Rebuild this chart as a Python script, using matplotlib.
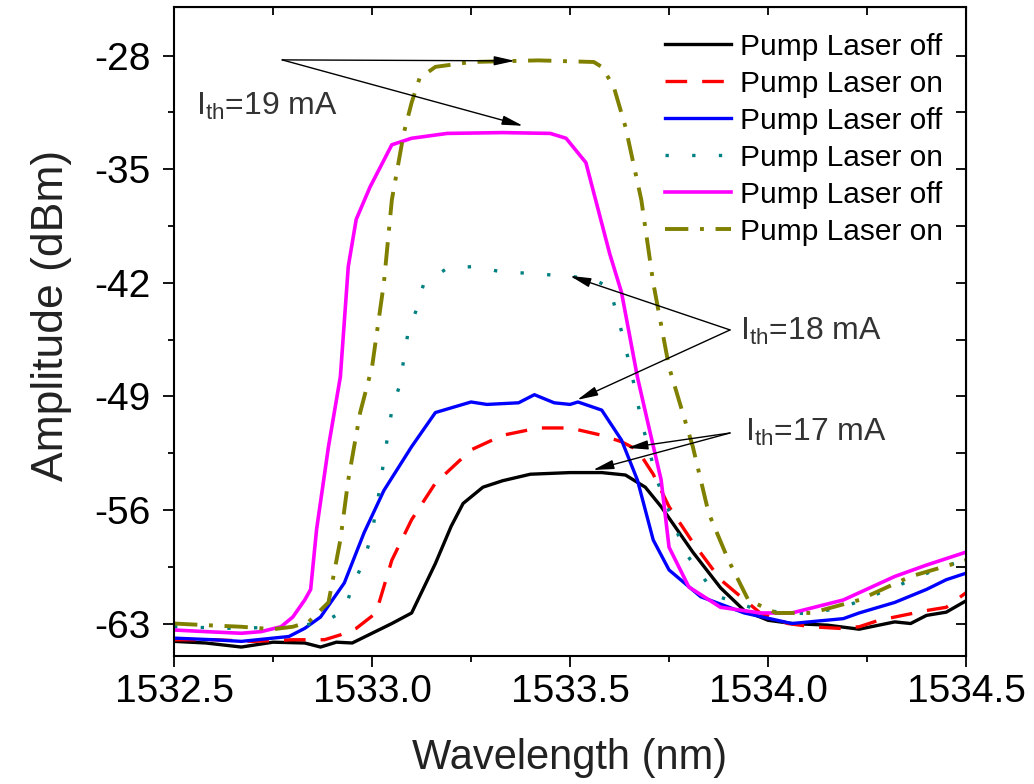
import numpy as np
import matplotlib.pyplot as plt
from matplotlib.ticker import MultipleLocator

plt.rcParams['font.family'] = ['Liberation Sans', 'DejaVu Sans']
plt.rcParams['mathtext.fontset'] = 'custom'
plt.rcParams['mathtext.rm'] = 'Liberation Sans'
plt.rcParams['axes.unicode_minus'] = False

# ------------------ DATA ------------------
# Ith = 17 mA, pump off (black)
x_17_off = [1532.50, 1532.58, 1532.67, 1532.75, 1532.83, 1532.87, 1532.91, 1532.95, 1533.00,
            1533.05, 1533.10, 1533.16, 1533.20, 1533.23, 1533.28, 1533.33, 1533.40, 1533.50,
            1533.58, 1533.64, 1533.69, 1533.73, 1533.81, 1533.88, 1533.94, 1534.00, 1534.06,
            1534.15, 1534.23, 1534.28, 1534.32, 1534.36, 1534.40, 1534.45, 1534.50]
y_17_off = [-64.1, -64.2, -64.45, -64.15, -64.2, -64.45, -64.15, -64.2, -63.6,
            -63.0, -62.35, -59.3, -57.0, -55.6, -54.6, -54.2, -53.8, -53.7,
            -53.7, -53.85, -54.6, -55.8, -58.6, -60.8, -62.2, -62.8, -63.0,
            -63.1, -63.35, -63.1, -62.9, -63.0, -62.5, -62.3, -61.6]

# Ith = 17 mA, pump on (red dashed)
x_17_on = [1532.50, 1532.60, 1532.70, 1532.80, 1532.88, 1532.92, 1532.96, 1533.01, 1533.05,
           1533.10, 1533.16, 1533.25, 1533.33, 1533.42, 1533.50, 1533.58, 1533.63, 1533.67,
           1533.71, 1533.75, 1533.81, 1533.88, 1533.98, 1534.05, 1534.11, 1534.18, 1534.23,
           1534.28, 1534.32, 1534.40, 1534.45, 1534.50]
y_17_on = [-64.0, -64.0, -64.1, -64.0, -64.0, -63.7, -63.3, -62.35, -59.1,
           -56.6, -54.35, -52.3, -51.4, -50.95, -50.95, -51.4, -51.8, -52.3,
           -53.8, -55.8, -58.0, -60.3, -62.35, -63.0, -63.2, -63.3, -63.2,
           -62.8, -62.6, -62.2, -62.0, -61.1]

# Ith = 18 mA, pump off (blue)
x_18_off = [1532.50, 1532.60, 1532.67, 1532.75, 1532.79, 1532.83, 1532.87, 1532.93, 1532.98,
            1533.03, 1533.10, 1533.16, 1533.25, 1533.29, 1533.33, 1533.37, 1533.41, 1533.46,
            1533.50, 1533.52, 1533.58, 1533.63, 1533.67, 1533.71, 1533.75, 1533.83, 1533.94,
            1534.06, 1534.19, 1534.23, 1534.32, 1534.40, 1534.45, 1534.50]
y_18_off = [-63.9, -64.0, -64.1, -63.9, -63.8, -63.3, -62.6, -60.5, -57.4,
            -54.8, -52.1, -50.0, -49.35, -49.5, -49.45, -49.4, -48.9, -49.4,
            -49.5, -49.35, -49.85, -51.7, -54.15, -57.85, -59.7, -61.35, -62.35,
            -63.0, -62.7, -62.35, -61.7, -60.9, -60.3, -59.9]

# Ith = 18 mA, pump on (teal dotted)
x_18_on = [1532.50, 1532.65, 1532.80, 1532.88, 1532.93, 1532.95, 1532.98, 1533.00, 1533.02,
           1533.03, 1533.05, 1533.07, 1533.08, 1533.09, 1533.11, 1533.13, 1533.19, 1533.26,
           1533.32, 1533.38, 1533.44, 1533.50, 1533.56, 1533.60, 1533.63, 1533.655, 1533.68,
           1533.72, 1533.79, 1533.87, 1533.98, 1534.10, 1534.19, 1534.32, 1534.44, 1534.50]
y_18_on = [-63.2, -63.3, -63.2, -62.9, -62.2, -60.75, -59.1, -57.4, -54.6,
           -52.9, -49.85, -48.3, -46.75, -45.2, -43.8, -42.1, -41.1, -41.0,
           -41.3, -41.4, -41.5, -41.6, -41.8, -42.3, -45.0, -47.5, -50.5,
           -54.2, -58.6, -61.3, -62.2, -62.4, -62.0, -60.75, -59.5, -59.1]

# Ith = 19 mA, pump off (magenta)
x_19_off = [1532.50, 1532.58, 1532.67, 1532.72, 1532.77, 1532.80, 1532.83, 1532.845, 1532.86,
            1532.89, 1532.92, 1532.94, 1532.96, 1532.995, 1533.05, 1533.10, 1533.19, 1533.33,
            1533.45, 1533.49, 1533.54, 1533.60, 1533.63, 1533.67, 1533.70, 1533.73, 1533.75,
            1533.80, 1533.88, 1533.98, 1534.06, 1534.19, 1534.32, 1534.40, 1534.50]
y_19_off = [-63.4, -63.5, -63.6, -63.5, -63.2, -62.6, -61.55, -60.9, -57.2,
            -52.1, -47.8, -41.0, -38.1, -36.1, -33.5, -33.1, -32.8, -32.75,
            -32.8, -33.1, -34.6, -40.2, -42.6, -47.8, -51.0, -54.15, -58.3,
            -60.75, -62.0, -62.35, -62.35, -61.55, -60.1, -59.4, -58.6]

# Ith = 19 mA, pump on (olive dash-dot)
x_19_on = [1532.50, 1532.58, 1532.67, 1532.75, 1532.80, 1532.84, 1532.89, 1532.92, 1532.94,
           1532.97, 1533.00, 1533.03, 1533.05, 1533.08, 1533.10, 1533.12, 1533.16, 1533.25,
           1533.42, 1533.56, 1533.58, 1533.61, 1533.64, 1533.68, 1533.71, 1533.75, 1533.81,
           1533.85, 1533.90, 1533.95, 1534.02, 1534.11, 1534.23, 1534.36, 1534.50]
y_19_on = [-63.0, -63.1, -63.2, -63.35, -63.2, -62.9, -61.7, -57.85, -54.15,
           -50.0, -47.2, -42.0, -36.9, -32.8, -30.9, -29.4, -28.7, -28.4,
           -28.3, -28.4, -28.7, -29.9, -32.4, -36.9, -42.0, -47.2, -52.1,
           -56.2, -59.1, -61.55, -62.35, -62.35, -61.55, -60.1, -59.1]

legend_labels = ["Pump Laser off", "Pump Laser on"] * 3
x_ticks = [1532.5, 1533.0, 1533.5, 1534.0, 1534.5]
y_ticks = [-28, -35, -42, -49, -56, -63]

# ------------------ PLOT ------------------
fig = plt.figure(figsize=(10.34, 7.84), dpi=100)
ax = fig.add_axes([0.1683, 0.1633, 0.766, 0.828])

ax.plot(x_17_off, y_17_off, color='black', lw=2.4, label=legend_labels[0])
ax.plot(x_17_on, y_17_on, color='#ff0000', lw=2.4, ls=(0, (6.5, 4.5)), label=legend_labels[1])
ax.plot(x_18_off, y_18_off, color='#0000ff', lw=2.4, label=legend_labels[2])
ax.plot(x_18_on, y_18_on, color='#008080', lw=2.4, ls=(0, (1, 7)), label=legend_labels[3])
ax.plot(x_19_off, y_19_off, color='#ff00ff', lw=2.6, label=legend_labels[4])
ax.plot(x_19_on, y_19_on, color='#808000', lw=2.8, ls=(0, (6, 3, 1, 3)), label=legend_labels[5])

ax.set_xlim(1532.5, 1534.5)
ax.set_ylim(-65, -25)
ax.set_xticks(x_ticks)
ax.set_xticklabels(["%.1f" % v for v in x_ticks])
ax.set_yticks(y_ticks)
ax.xaxis.set_minor_locator(MultipleLocator(0.25))
ax.yaxis.set_minor_locator(MultipleLocator(3.5))
ax.tick_params(which='major', direction='out', length=8, width=1.3, labelsize=28, pad=5)
ax.tick_params(which='minor', direction='out', length=4.5, width=1.3)
ax.tick_params(axis='y', which='major', pad=9)
for s in ax.spines.values():
    s.set_linewidth(1.5)

# inward ticks on top and right
secx = ax.secondary_xaxis('top')
secx.set_xticks(x_ticks)
secx.xaxis.set_minor_locator(MultipleLocator(0.25))
secx.tick_params(which='both', direction='in', length=6, width=1.3, labeltop=False)
secy = ax.secondary_yaxis('right')
secy.set_yticks(y_ticks)
secy.yaxis.set_minor_locator(MultipleLocator(3.5))
secy.tick_params(which='both', direction='in', length=7, width=1.3, labelright=False)

ax.set_xlabel("Wavelength (nm)", fontsize=30, labelpad=20, color='#222222')
ax.set_ylabel("Amplitude (dBm)", fontsize=32, labelpad=16, color='#222222')
ax.yaxis.label.set_y(0.525)

ax.legend(loc='upper left', bbox_to_anchor=(0.62, 0.96), frameon=False, fontsize=21.5,
          handlelength=2.2, handletextpad=0.3, labelspacing=0.3, borderpad=0, borderaxespad=0)

# annotations
arrow = dict(arrowstyle='-|>,head_length=0.9,head_width=0.2', color='black', lw=1.0,
             mutation_scale=14, shrinkA=0, shrinkB=0)
ax.annotate('', xy=(1533.361, -28.33), xytext=(1532.773, -28.27), arrowprops=arrow)
ax.annotate('', xy=(1533.381, -32.33), xytext=(1532.773, -28.27), arrowprops=arrow)
ax.text(1532.555, -31.1, r'I$_{\mathrm{th}}$=19 mA', fontsize=23, va='center', ha='left', color='#333333')

ax.annotate('', xy=(1533.50, -41.58), xytext=(1533.904, -44.91), arrowprops=arrow)
ax.annotate('', xy=(1533.518, -49.22), xytext=(1533.904, -44.91), arrowprops=arrow)
ax.text(1533.929, -45.0, r'I$_{\mathrm{th}}$=18 mA', fontsize=23, va='center', ha='left', color='#333333')

ax.annotate('', xy=(1533.644, -52.18), xytext=(1533.904, -51.26), arrowprops=arrow)
ax.annotate('', xy=(1533.558, -53.54), xytext=(1533.904, -51.26), arrowprops=arrow)
ax.text(1533.942, -51.2, r'I$_{\mathrm{th}}$=17 mA', fontsize=23, va='center', ha='left', color='#333333')

fig.savefig("out.png", dpi=100)
